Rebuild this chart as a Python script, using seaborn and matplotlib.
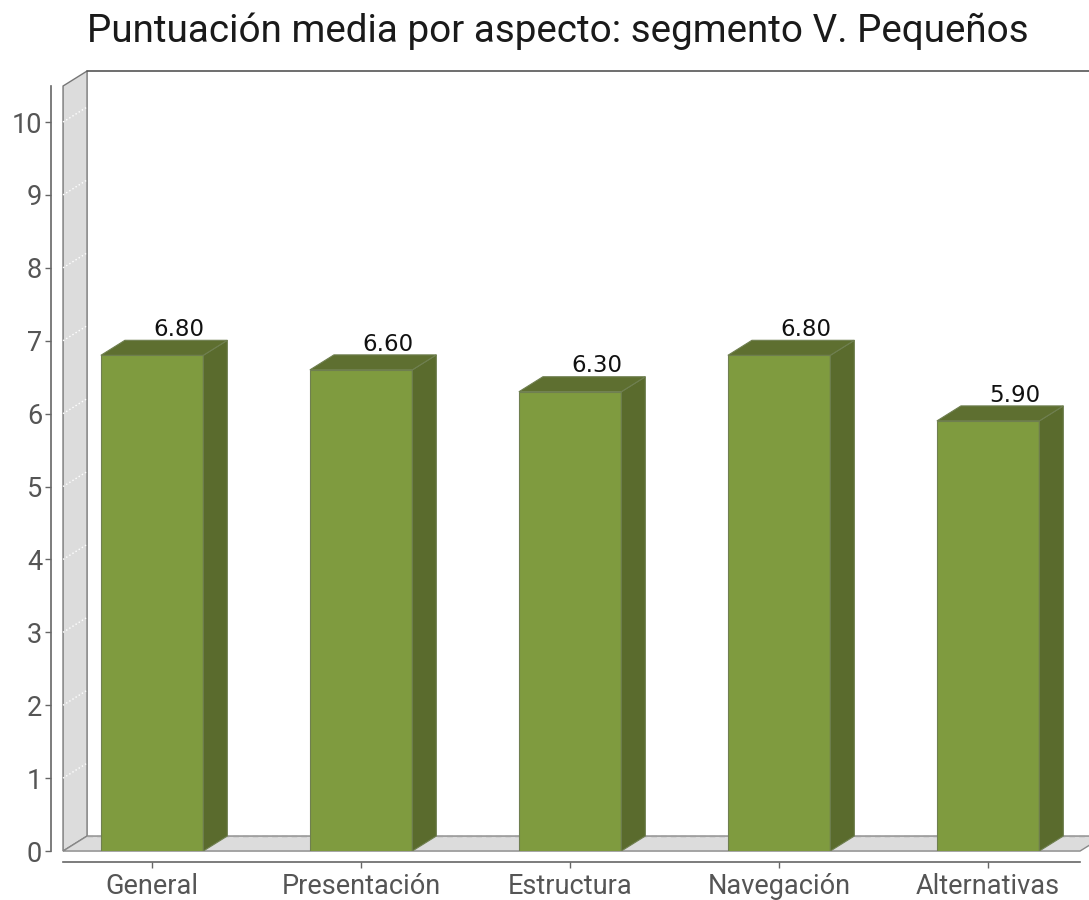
import matplotlib
matplotlib.use("Agg")
import matplotlib.pyplot as plt
import seaborn as sns
from matplotlib.patches import Polygon

categorias = ["General", "Presentación", "Estructura", "Navegación", "Alternativas"]
puntuaciones = [6.80, 6.60, 6.30, 6.80, 5.90]
ticks_y = [0, 1, 2, 3, 4, 5, 6, 7, 8, 9, 10]

FRENTE = "#7f9b3f"
LADO = "#5a6b2d"
TECHO = "#5e6f30"
GRIS = "#dcdcdc"

sns.set_theme(style="white")
plt.rcParams["font.family"] = ["Roboto", "DejaVu Sans"]

fig = plt.figure(figsize=(10.89, 9), dpi=100)
ax = fig.add_axes([0.0579, 0.0544, 0.9339, 0.8497])

sns.barplot(x=categorias, y=puntuaciones, color=FRENTE, width=0.49,
            saturation=1, edgecolor="#6f7f50", linewidth=0.8, ax=ax, zorder=3)

x0, x1 = -0.426, 4.44
ax.set_xlim(x0, x1)
ax.set_ylim(0, 10.49)
dx, dy = 0.115, 0.206  # profundidad del efecto 3D
techo_pared = 10.70

# pared lateral
ax.add_patch(Polygon([(x0, 0), (x0 + dx, dy), (x0 + dx, techo_pared), (x0, techo_pared - dy)],
                     closed=True, facecolor=GRIS, edgecolor="#777777", linewidth=1,
                     clip_on=False, zorder=1))
for t in ticks_y[1:]:
    ax.plot([x0, x0 + dx], [t, t + dy], color="white", lw=1, ls=":", clip_on=False, zorder=1.5)
ax.plot([x0 + dx, x1 + 0.2], [techo_pared, techo_pared], color="#555555", lw=1.2,
        clip_on=False, zorder=1)
# suelo
ax.add_patch(Polygon([(x0, 0), (x1, 0), (x1 + dx, dy), (x0 + dx, dy)],
                     closed=True, facecolor=GRIS, edgecolor="#888888", linewidth=1,
                     clip_on=False, zorder=1))
ax.plot([x0 + dx, x1 + dx], [dy, dy], color="#a0a0a0", lw=1, ls=(0, (4, 3)), clip_on=False, zorder=1.5)

for p, v in zip(ax.patches[:len(puntuaciones)], puntuaciones):
    bx, bw, bh = p.get_x(), p.get_width(), p.get_height()
    lado = [(bx + bw, 0), (bx + bw + dx, dy), (bx + bw + dx, bh + dy), (bx + bw, bh)]
    techo = [(bx, bh), (bx + dx, bh + dy), (bx + bw + dx, bh + dy), (bx + bw, bh)]
    ax.add_patch(Polygon(lado, closed=True, facecolor=LADO, edgecolor="#6f7f50", lw=0.8, zorder=3))
    ax.add_patch(Polygon(techo, closed=True, facecolor=TECHO, edgecolor="#6f7f50", lw=0.8, zorder=3))
    ax.text(bx + bw / 2 + dx * 1.1, bh + dy - 0.01, f"{v:.2f}", ha="center", va="bottom",
            fontsize=16.5, family=["DejaVu Sans"], color="#111111", zorder=4)

sns.despine(ax=ax, offset={"left": 9, "bottom": 8})
for s in ["left", "bottom"]:
    ax.spines[s].set_color("#666666")
    ax.spines[s].set_linewidth(1.2)
ax.set_yticks(ticks_y)
ax.tick_params(axis="both", colors="#666666", labelcolor="#555555", labelsize=19.5,
               length=4, width=1, left=True, bottom=True, direction="out")
ax.tick_params(axis="y", pad=2)
ax.tick_params(axis="x", labelsize=19.5, pad=3.5)
ax.set_xlabel("")
ax.set_ylabel("")

fig.suptitle("Puntuación media por aspecto: segmento V. Pequeños", x=0.5125, y=0.986,
             fontsize=27.8, color="#1a1a1a")

fig.savefig("out.png", dpi=100)
